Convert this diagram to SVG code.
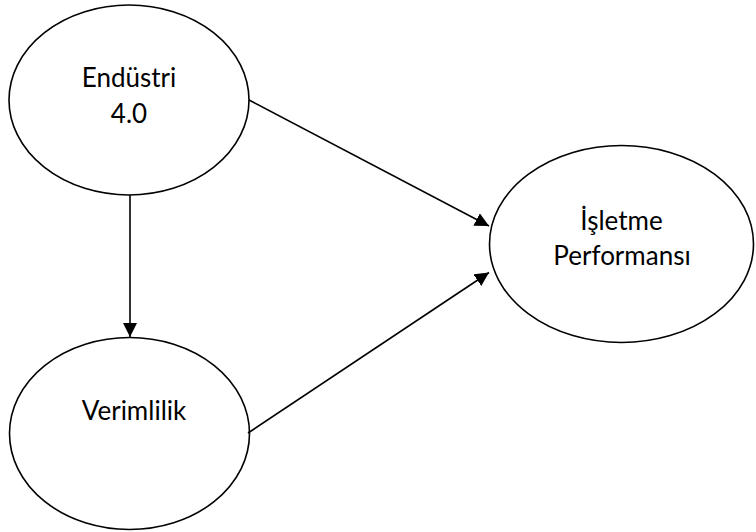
<svg xmlns="http://www.w3.org/2000/svg" width="756" height="532" viewBox="0 0 756 532">
<style>
.node ellipse { fill: #fff; stroke: #000; stroke-width: 1.6; }
.node text { font-family: Lato, "Liberation Sans", sans-serif; font-size: 26px; fill: #000; text-anchor: middle; }
.edges line { stroke: #000; stroke-width: 1.6; marker-end: url(#arrow); }
</style>
<defs>
<marker id="arrow" markerUnits="userSpaceOnUse" markerWidth="15" markerHeight="15" refX="14" refY="7" orient="auto">
<path d="M0,0 L14,7 L0,14 Z" fill="#000"/>
</marker>
</defs>
<rect width="756" height="532" fill="#fff"/>
<g id="n-endustri" class="node">
<ellipse cx="129" cy="100" rx="120" ry="95"/>
<text x="129" y="87">Endüstri</text>
<text x="129" y="123">4.0</text>
</g>
<g id="n-verimlilik" class="node">
<ellipse cx="129.5" cy="433.5" rx="120" ry="96"/>
<text x="134" y="420">Verimlilik</text>
</g>
<g id="n-isletme" class="node">
<ellipse cx="621.5" cy="244" rx="132" ry="98.5"/>
<text x="621.5" y="230">İşletme</text>
<text x="622" y="265">Performansı</text>
</g>
<g id="edges" class="edges">
<line x1="249" y1="100" x2="489" y2="226"/>
<line x1="130" y1="195" x2="130" y2="337"/>
<line x1="248" y1="433" x2="489" y2="272.5"/>
</g>
</svg>
